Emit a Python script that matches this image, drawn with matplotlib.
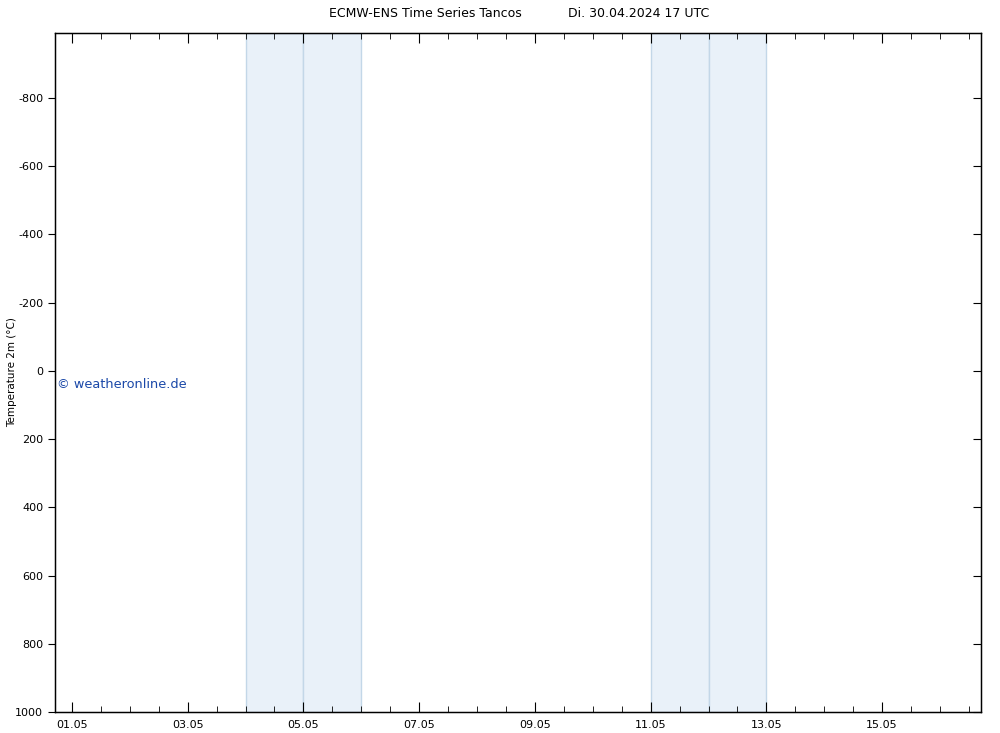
import datetime as dt
import matplotlib
matplotlib.use('Agg')
import matplotlib.pyplot as plt
import matplotlib.dates as mdates

title_left = 'ECMW-ENS Time Series Tancos'
title_right = 'Di. 30.04.2024 17 UTC'
ylabel = 'Temperature 2m (°C)'

start = dt.datetime(2024, 4, 30, 17)
end = dt.datetime(2024, 5, 16, 17)
# weekend shading (start, end of each day)
shade_days = [dt.datetime(2024, 5, 4), dt.datetime(2024, 5, 5),
              dt.datetime(2024, 5, 11), dt.datetime(2024, 5, 12)]
yticks = [-800, -600, -400, -200, 0, 200, 400, 600, 800, 1000]
xtick_days = [dt.datetime(2024, 5, d) for d in range(1, 16, 2)]
xtick_labels = [d.strftime('%d.%m') for d in xtick_days]

fig = plt.figure(figsize=(10, 7.33), dpi=100)
ax = fig.add_axes([0.055, 0.0286, 0.926, 0.9264])

for d in shade_days:
    ax.axvspan(d, d + dt.timedelta(days=1), facecolor='#e9f1f9',
               edgecolor='#c3d7e8', linewidth=1.0)

ax.set_xlim(start, end)
ax.set_ylim(1000, -990)

ax.set_yticks(yticks)
ax.set_yticklabels([str(v) for v in yticks], fontsize=8)
ax.set_xticks(xtick_days)
ax.set_xticklabels(xtick_labels, fontsize=8)
ax.xaxis.set_minor_locator(mdates.HourLocator(byhour=[0, 12]))

ax.tick_params(axis='x', which='major', direction='in', length=7, top=True, bottom=True, pad=6)
ax.tick_params(axis='x', which='minor', direction='in', length=4, top=True, bottom=True)
ax.tick_params(axis='y', which='major', direction='out', length=5, left=True, right=False)
ax2 = ax.twinx()
ax2.set_ylim(ax.get_ylim())
ax2.set_yticks(yticks)
ax2.set_yticklabels([])
ax2.tick_params(axis='y', direction='in', length=6)

for sp in ax.spines.values():
    sp.set_linewidth(1.0)

ax.set_ylabel(ylabel, fontsize=7.5)
ax.yaxis.set_label_coords(-0.041, 0.5)

fig.text(0.425, 0.982, title_left, ha='center', va='center', fontsize=9)
fig.text(0.639, 0.982, title_right, ha='center', va='center', fontsize=9)

ax.text(0.002, 0.483, '© weatheronline.de', transform=ax.transAxes,
        color='#1a48a8', fontsize=9.3, ha='left', va='center')

fig.savefig('out.png', dpi=100)
